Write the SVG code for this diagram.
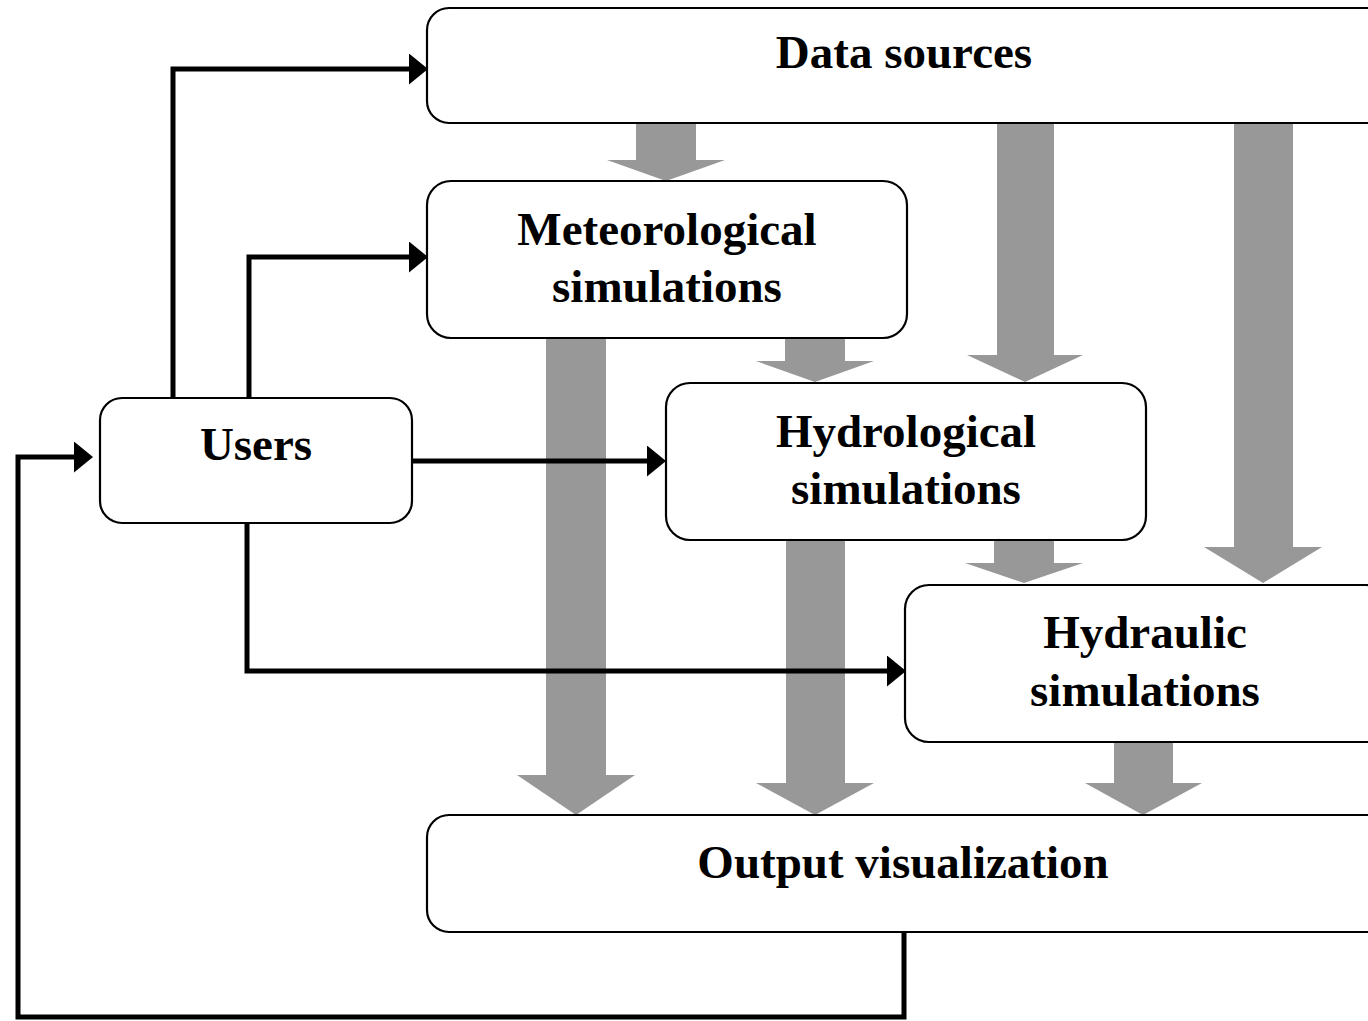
<svg xmlns="http://www.w3.org/2000/svg" width="1368" height="1021" viewBox="0 0 1368 1021">
  <style>
    .box { fill: #ffffff; stroke: #000000; stroke-width: 2.2; }
    .label { font-family: "Liberation Serif", "Times New Roman", serif; font-weight: bold; font-size: 47px; fill: #000000; text-anchor: middle; }
    .flow { fill: #989898; stroke: none; }
    .link { fill: none; stroke: #000000; stroke-width: 5; stroke-linejoin: miter; }
  </style>
  <defs>
    <marker id="head" viewBox="0 0 19 31" refX="9" refY="15.5" markerWidth="19" markerHeight="31" markerUnits="userSpaceOnUse" orient="auto">
      <path d="M0,0 L19,15.5 L0,31 Z" fill="#000000"/>
    </marker>
  </defs>

  <rect width="1368" height="1021" fill="#ffffff"/>

  <!-- broad grey data-flow arrows -->
  <g id="flows">
    <polygon class="flow" points="636,123 696,123 696,160 725,160 666,181 607,160 636,160"/>
    <polygon class="flow" points="997,123 1054,123 1054,355 1083,355 1025,382 967,355 997,355"/>
    <polygon class="flow" points="1234,123 1293,123 1293,547 1322,547 1263,583 1204,547 1234,547"/>
    <polygon class="flow" points="785,338 845,338 845,361 874,361 815,382 756,361 785,361"/>
    <polygon class="flow" points="546,338 606,338 606,775 635,775 576,815 517,775 546,775"/>
    <polygon class="flow" points="786,540 845,540 845,783 874,783 815,815 756,783 786,783"/>
    <polygon class="flow" points="994,540 1054,540 1054,563 1083,563 1024,583 965,563 994,563"/>
    <polygon class="flow" points="1114,742 1173,742 1173,783 1202,783 1143,815 1085,783 1114,783"/>
  </g>

  <!-- user interaction and feedback connectors -->
  <g id="connectors">
    <path class="link" d="M173,398 V69 H418" marker-end="url(#head)"/>
    <path class="link" d="M249,398 V257 H418" marker-end="url(#head)"/>
    <path class="link" d="M412,461 H656" marker-end="url(#head)"/>
    <path class="link" d="M247,523 V671 H896" marker-end="url(#head)"/>
    <path class="link" d="M904,932 V1017 H18 V457 H83" marker-end="url(#head)"/>
  </g>

  <g id="data-sources">
    <rect class="box" x="427" y="8" width="963" height="115" rx="22"/>
    <text class="label" x="904" y="68">Data sources</text>
  </g>

  <g id="meteorological">
    <rect class="box" x="427" y="181" width="480" height="157" rx="24"/>
    <text class="label" x="667" y="245">Meteorological</text>
    <text class="label" x="667" y="302">simulations</text>
  </g>

  <g id="users">
    <rect class="box" x="100" y="398" width="312" height="125" rx="22"/>
    <text class="label" x="256" y="460">Users</text>
  </g>

  <g id="hydrological">
    <rect class="box" x="666" y="383" width="480" height="157" rx="24"/>
    <text class="label" x="906" y="447">Hydrological</text>
    <text class="label" x="906" y="504">simulations</text>
  </g>

  <g id="hydraulic">
    <rect class="box" x="905" y="585" width="485" height="157" rx="24"/>
    <text class="label" x="1145" y="648">Hydraulic</text>
    <text class="label" x="1145" y="706">simulations</text>
  </g>

  <g id="output">
    <rect class="box" x="427" y="815" width="963" height="117" rx="22"/>
    <text class="label" x="903" y="878">Output visualization</text>
  </g>
</svg>
